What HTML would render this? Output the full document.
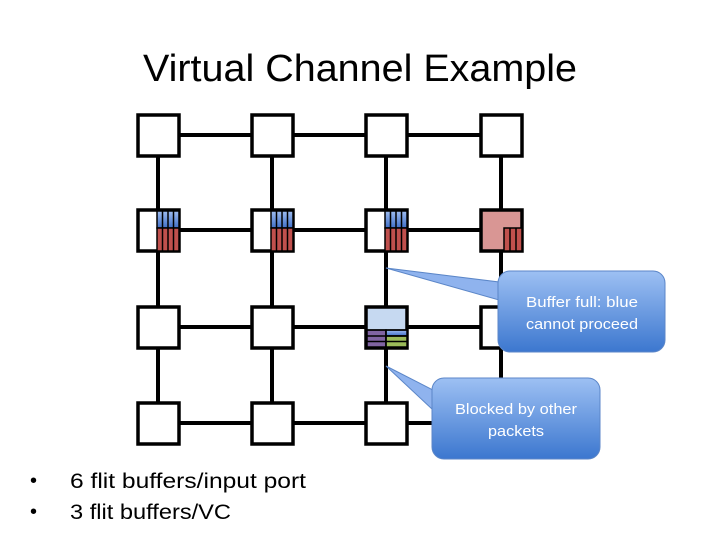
<!DOCTYPE html>
<html><head><style>
body{margin:0;width:720px;height:540px;background:#fff;overflow:hidden;font-family:"Liberation Sans",sans-serif;}
</style></head><body>
<svg width="720" height="540" xmlns="http://www.w3.org/2000/svg">
<defs>
<linearGradient id="g" x1="0" y1="0" x2="0" y2="1"><stop offset="0" stop-color="#9dc0f3"/><stop offset="1" stop-color="#3c77cf"/></linearGradient>
<linearGradient id="bl" x1="0" y1="0" x2="0" y2="1"><stop offset="0" stop-color="#9fbdf0"/><stop offset="1" stop-color="#3f6fc8"/></linearGradient>
</defs>
<text x="143" y="81" font-size="38" textLength="434" lengthAdjust="spacingAndGlyphs" fill="#000">Virtual Channel Example</text>
<g stroke="#000" stroke-width="4">
<line x1="158" y1="135" x2="501" y2="135"/><line x1="158" y1="230" x2="501" y2="230"/>
<line x1="158" y1="327" x2="501" y2="327"/><line x1="158" y1="423" x2="501" y2="423"/>
<line x1="158" y1="135" x2="158" y2="423"/><line x1="272" y1="135" x2="272" y2="423"/>
<line x1="386" y1="135" x2="386" y2="423"/><line x1="501" y1="135" x2="501" y2="423"/>
</g>
<g stroke="#000" stroke-width="3.5" fill="#fff">
<rect x="138" y="115" width="41" height="41"/><rect x="252" y="115" width="41" height="41"/><rect x="366" y="115" width="41" height="41"/><rect x="481" y="115" width="41" height="41"/>
<rect x="138" y="210" width="41" height="41"/><rect x="252" y="210" width="41" height="41"/><rect x="366" y="210" width="41" height="41"/><rect x="481" y="210" width="41" height="41" fill="#d99694"/>
<rect x="138" y="307" width="41" height="41"/><rect x="252" y="307" width="41" height="41"/><rect x="366" y="307" width="41" height="41" fill="#c6d9f1"/><rect x="481" y="307" width="41" height="41"/>
<rect x="138" y="403" width="41" height="41"/><rect x="252" y="403" width="41" height="41"/><rect x="366" y="403" width="41" height="41"/>
</g>
<g stroke="#000" stroke-width="1.5">
<g transform="translate(157,211)"><rect x="0" y="0" width="22" height="17" fill="url(#bl)"/><rect x="0" y="17" width="22" height="23" fill="#c0504d"/><line x1="5.5" y1="0" x2="5.5" y2="40"/><line x1="11" y1="0" x2="11" y2="40"/><line x1="16.5" y1="0" x2="16.5" y2="40"/></g>
<g transform="translate(271,211)"><rect x="0" y="0" width="22" height="17" fill="url(#bl)"/><rect x="0" y="17" width="22" height="23" fill="#c0504d"/><line x1="5.5" y1="0" x2="5.5" y2="40"/><line x1="11" y1="0" x2="11" y2="40"/><line x1="16.5" y1="0" x2="16.5" y2="40"/></g>
<g transform="translate(385,211)"><rect x="0" y="0" width="22" height="17" fill="url(#bl)"/><rect x="0" y="17" width="22" height="23" fill="#c0504d"/><line x1="5.5" y1="0" x2="5.5" y2="40"/><line x1="11" y1="0" x2="11" y2="40"/><line x1="16.5" y1="0" x2="16.5" y2="40"/></g>
<g transform="translate(504,228)"><rect x="0" y="0" width="18" height="23" fill="#c0504d"/><line x1="6" y1="0" x2="6" y2="23"/><line x1="12" y1="0" x2="12" y2="23"/></g>
<g transform="translate(367,330)"><rect x="0" y="0" width="19" height="17" fill="#8064a2"/><rect x="19" y="0" width="21" height="6" fill="url(#bl)"/><rect x="19" y="6" width="21" height="11" fill="#9bbb59"/><line x1="0" y1="6" x2="40" y2="6"/><line x1="0" y1="11.5" x2="40" y2="11.5"/><line x1="19" y1="0" x2="19" y2="17"/><line x1="0" y1="0" x2="40" y2="0"/></g>
</g>
<path d="M386,268 L499,282 L499,300 Z" fill="#8fb3ee" stroke="#5b86c8" stroke-width="1"/>
<rect x="498" y="271" width="167" height="81" rx="12" fill="url(#g)" stroke="#5b86c8" stroke-width="1"/>
<path d="M386,366 L433,390 L433,410 Z" fill="#8fb3ee" stroke="#5b86c8" stroke-width="1"/>
<rect x="432" y="378" width="168" height="81" rx="12" fill="url(#g)" stroke="#5b86c8" stroke-width="1"/>
<text x="526" y="307" font-size="15" textLength="112" lengthAdjust="spacingAndGlyphs" fill="#fff">Buffer full: blue</text>
<text x="526" y="329" font-size="15" textLength="112" lengthAdjust="spacingAndGlyphs" fill="#fff">cannot proceed</text>
<text x="455" y="414" font-size="15" textLength="122" lengthAdjust="spacingAndGlyphs" fill="#fff">Blocked by other</text>
<text x="488" y="436" font-size="15" textLength="56" lengthAdjust="spacingAndGlyphs" fill="#fff">packets</text>
<text x="30" y="487" font-size="20" fill="#000">•</text><text x="70" y="488" font-size="21" textLength="236" lengthAdjust="spacingAndGlyphs" fill="#000">6 flit buffers/input port</text>
<text x="30" y="518" font-size="20" fill="#000">•</text><text x="70" y="519" font-size="21" textLength="161" lengthAdjust="spacingAndGlyphs" fill="#000">3 flit buffers/VC</text>
</svg>
</body></html>
